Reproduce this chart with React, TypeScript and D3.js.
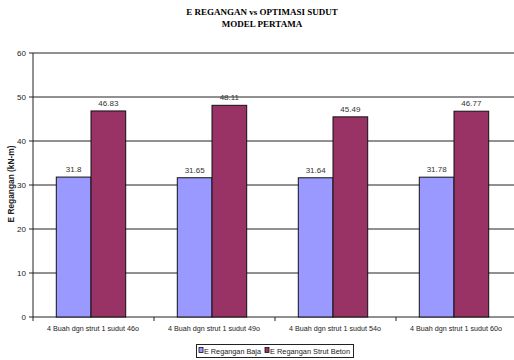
import React from "react";
import * as d3 from "d3";

const categories = [
  "4 Buah dgn strut 1 sudut 46o",
  "4 Buah dgn strut 1 sudut 49o",
  "4 Buah dgn strut 1 sudut 54o",
  "4 Buah dgn strut 1 sudut 60o",
];
const seriesNames = ["E Regangan Baja", "E Regangan Strut Beton"];
const baja = [31.8, 31.65, 31.64, 31.78];
const beton = [46.83, 48.11, 45.49, 46.77];
const yTicks = [0, 10, 20, 30, 40, 50, 60];
const colors = ["#9999FF", "#993366"];

export default function App() {
  const W = 514, H = 360;
  const left = 33, right = 517, top = 53, bottom = 317;
  const x = d3.scaleBand<string>().domain(categories).range([left, right]);
  const y = d3.scaleLinear().domain([0, 60]).range([bottom, top]);
  const barW = 34.7;
  const series = [baja, beton];
  const font = "Arial, 'Liberation Sans', sans-serif";
  const legendX = [[199, 204, 57], [265, 270, 80]];
  return (
    <svg width={W} height={H} style={{ position: "absolute", left: 0, top: 0, background: "#fff" }}>
      <rect x={0} y={0} width={W} height={H} fill="#fff" />
      <text x={262} y={15} textAnchor="middle" fontFamily="'Liberation Serif', 'Times New Roman', serif" fontWeight="bold" fontSize={9}>E REGANGAN vs OPTIMASI SUDUT</text>
      <text x={262} y={27} textAnchor="middle" fontFamily="'Liberation Serif', 'Times New Roman', serif" fontWeight="bold" fontSize={9}>MODEL PERTAMA</text>
      {yTicks.map((t) => (
        <g key={t}>
          <line x1={left - 4} x2={W} y1={y(t)} y2={y(t)} stroke="#222" strokeWidth={1} />
          <text x={left - 7} y={y(t) + 3} textAnchor="end" fontFamily={font} fontSize={8} fill="#222">{t}</text>
        </g>
      ))}
      <line x1={left} x2={left} y1={top} y2={bottom} stroke="#222" strokeWidth={1} />
      {categories.map((c, i) => (
        <g key={c}>
          <line x1={x(c)!} x2={x(c)!} y1={bottom} y2={bottom + 4} stroke="#222" />
          <text x={x(c)! + x.bandwidth() / 2 - 0.5} y={bottom + 14} textAnchor="middle" fontFamily={font} fontSize={7.5} textLength={92} lengthAdjust="spacingAndGlyphs" fill="#222">{c}</text>
          {series.map((s, k) => {
            const cx = x(c)! + x.bandwidth() / 2 - 2.5;
            const bx = cx - barW + k * barW;
            return (
              <g key={k}>
                <rect x={bx} y={y(s[i])} width={barW} height={bottom - y(s[i])} fill={colors[k]} stroke="#111" strokeWidth={1} />
                <text x={bx + barW / 2} y={y(s[i]) - 5} textAnchor="middle" fontFamily={font} fontSize={8} fill="#333">{s[i]}</text>
              </g>
            );
          })}
        </g>
      ))}
      <text transform={`translate(14,${(top + bottom) / 2 - 1}) rotate(-90)`} textAnchor="middle" fontFamily={font} fontWeight="bold" fontSize={8.5} textLength={77} lengthAdjust="spacingAndGlyphs" fill="#222">E Regangan (kN-m)</text>
      <rect x={196.5} y={344.5} width={157} height={13} fill="#fff" stroke="#222" strokeWidth={1} />
      {seriesNames.map((n, k) => {
        const [sx, tx, tl] = legendX[k];
        return (
          <g key={n}>
            <rect x={sx} y={347.5} width={4} height={5} fill={colors[k]} stroke="#111" strokeWidth={0.8} />
            <text x={tx} y={354} fontFamily={font} fontSize={7.5} textLength={tl} lengthAdjust="spacingAndGlyphs" fill="#222">{n}</text>
          </g>
        );
      })}
    </svg>
  );
}
